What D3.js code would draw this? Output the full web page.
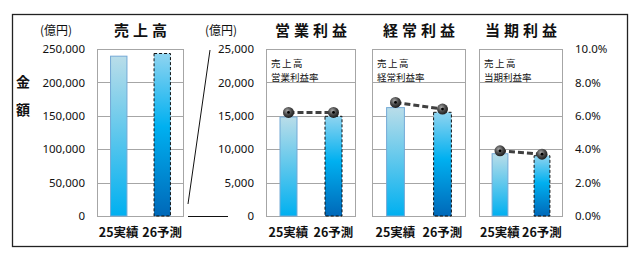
<!DOCTYPE html>
<html><head><meta charset="utf-8">
<script src="https://cdn.jsdelivr.net/npm/d3@7"></script>
<style>
html,body{margin:0;padding:0;background:#fff;}
svg{display:block;font-family:"Noto Sans CJK JP","Noto Sans",sans-serif;}
</style></head>
<body>
<svg id="c" width="640" height="257"></svg>
<script>
// ---- data ----
const categories = ["25実績", "26予測"];
const panelTitles = ["売上高", "営業利益", "経常利益", "当期利益"];
const salesValues = [240000, 244000];
const operatingProfit = [14900, 15000];
const ordinaryProfit = [16300, 15600];
const netProfit = [9400, 9100];
const operatingMargin = [6.2, 6.2];
const ordinaryMargin = [6.8, 6.4];
const netMargin = [3.9, 3.7];
const marginLabels = ["営業利益率", "経常利益率", "当期利益率"];
const salesTicks = [0, 50000, 100000, 150000, 200000, 250000];
const profitTicks = [0, 5000, 10000, 15000, 20000, 25000];
const marginTicks = [0, 2, 4, 6, 8, 10];

// ---- layout ----
const svg = d3.select("#c");
const plotTop = 49, plotBottom = 216;
const panels = [
  {x0: 97, x1: 184, values: salesValues},
  {x0: 266, x1: 356, values: operatingProfit, margin: operatingMargin, label: marginLabels[0]},
  {x0: 372, x1: 466, values: ordinaryProfit, margin: ordinaryMargin, label: marginLabels[1]},
  {x0: 479, x1: 563, values: netProfit, margin: netMargin, label: marginLabels[2]}
];
const ySales = d3.scaleLinear().domain([0, 250000]).range([plotBottom, plotTop]);
const yProfit = d3.scaleLinear().domain([0, 25000]).range([plotBottom, plotTop]);
const yMargin = d3.scaleLinear().domain([0, 10]).range([plotBottom, plotTop]);

// outer frame
svg.append("rect").attr("x", 12.5).attr("y", 14.5).attr("width", 615).attr("height", 232)
  .attr("fill", "none").attr("stroke", "#222").attr("stroke-width", 1.3);

// gradients
const defs = svg.append("defs");
const gA = defs.append("linearGradient").attr("id", "gA").attr("x1", 0).attr("y1", 0).attr("x2", 0).attr("y2", 1);
gA.append("stop").attr("offset", "0%").attr("stop-color", "#b9dde9");
gA.append("stop").attr("offset", "100%").attr("stop-color", "#00b0f0");
const gB = defs.append("linearGradient").attr("id", "gB").attr("x1", 0).attr("y1", 0).attr("x2", 0).attr("y2", 1);
gB.append("stop").attr("offset", "0%").attr("stop-color", "#8fd4f0");
gB.append("stop").attr("offset", "45%").attr("stop-color", "#00b0f0");
gB.append("stop").attr("offset", "100%").attr("stop-color", "#0068b8");
const gD = defs.append("radialGradient").attr("id", "gD").attr("cx", "40%").attr("cy", "35%").attr("r", "65%");
gD.append("stop").attr("offset", "0%").attr("stop-color", "#a8a8a8");
gD.append("stop").attr("offset", "55%").attr("stop-color", "#4a4a4a");
gD.append("stop").attr("offset", "100%").attr("stop-color", "#1e1e1e");

panels.forEach((p, i) => {
  const y = i === 0 ? ySales : yProfit;
  const ticks = i === 0 ? salesTicks : profitTicks;
  const g = svg.append("g");
  // gridlines
  g.selectAll("line.grid").data(ticks).join("line")
    .attr("x1", p.x0).attr("x2", p.x1)
    .attr("y1", d => Math.round(y(d)) + 0.5).attr("y2", d => Math.round(y(d)) + 0.5)
    .attr("stroke", "#a6a6a6").attr("stroke-width", 1);
  // plot box
  g.append("rect").attr("x", p.x0 + 0.5).attr("y", plotTop + 0.5)
    .attr("width", p.x1 - p.x0 - 1).attr("height", plotBottom - plotTop)
    .attr("fill", "none").attr("stroke", "#a6a6a6");

  const x = d3.scaleBand().domain(categories).range([p.x0, p.x1]).paddingInner(0.6).paddingOuter(0.3);
  const data = categories.map((c, k) => ({c, v: p.values[k], k}));
  g.selectAll("rect.bar").data(data).join("rect")
    .attr("x", d => x(d.c) + 0.5).attr("width", x.bandwidth() - 1)
    .attr("y", d => y(d.v) + 0.5).attr("height", d => plotBottom - y(d.v) - 0.5)
    .attr("fill", d => d.k === 0 ? "url(#gA)" : "url(#gB)")
    .attr("stroke", d => d.k === 0 ? "#74a9d6" : "#111")
    .attr("stroke-width", 1)
    .attr("stroke-dasharray", d => d.k === 0 ? null : "3,2");

  // x labels
  g.selectAll("text.xl").data(categories).join("text")
    .attr("x", d => x(d) + x.bandwidth() / 2).attr("y", 237)
    .attr("text-anchor", "middle").attr("font-size", 12.5).attr("font-weight", "bold")
    .attr("fill", "#111").text(d => d);

  // title
  g.append("text").attr("x", (p.x0 + p.x1) / 2 + 2).attr("y", 36).attr("text-anchor", "middle")
    .attr("font-size", 15).attr("font-weight", "bold").attr("letter-spacing", "4px")
    .attr("fill", "#111").text(panelTitles[i]);

  if (p.margin) {
    g.append("text").attr("x", p.x0 + 5).attr("y", 67).attr("font-size", 9.5).attr("letter-spacing", "1.5px").attr("fill", "#111").text("売上高");
    g.append("text").attr("x", p.x0 + 5).attr("y", 81).attr("font-size", 9.5).attr("fill", "#111").text(p.label);
    const pts = categories.map((c, k) => [x(c) + x.bandwidth() / 2, yMargin(p.margin[k])]);
    g.append("path").attr("d", d3.line()(pts)).attr("fill", "none")
      .attr("stroke", "#404040").attr("stroke-width", 3).attr("stroke-dasharray", "6,3");
    g.selectAll("circle.dot").data(pts).join("circle")
      .attr("cx", d => d[0]).attr("cy", d => d[1]).attr("r", 5.5).attr("fill", "url(#gD)");
    g.selectAll("circle.ctr").data(pts).join("circle")
      .attr("cx", d => d[0]).attr("cy", d => d[1]).attr("r", 1.4).attr("fill", "#000");
  }
});

// axes
const tickFont = g => g.selectAll("text").attr("font-size", 11.5).attr("fill", "#111")
  .attr("font-family", "\"Noto Sans\",\"Noto Sans CJK JP\",sans-serif");
const leftAxis = svg.append("g").attr("transform", "translate(85,0)")
  .call(d3.axisLeft(ySales).tickValues(salesTicks).tickSize(0).tickPadding(0).tickFormat(d3.format(",")));
leftAxis.select(".domain").remove(); tickFont(leftAxis);
const midAxis = svg.append("g").attr("transform", "translate(254,0)")
  .call(d3.axisLeft(yProfit).tickValues(profitTicks).tickSize(0).tickPadding(0).tickFormat(d3.format(",")));
midAxis.select(".domain").remove(); tickFont(midAxis);
const rightAxis = svg.append("g").attr("transform", "translate(575,0)")
  .call(d3.axisRight(yMargin).tickValues(marginTicks).tickSize(0).tickPadding(0).tickFormat(d => d3.format(".1f")(d) + "%"));
rightAxis.select(".domain").remove(); tickFont(rightAxis);

// unit labels
svg.append("text").attr("x", 40).attr("y", 35).attr("font-size", 12).attr("fill", "#111").text("(億円)");
svg.append("text").attr("x", 205).attr("y", 35).attr("font-size", 12).attr("fill", "#111").text("(億円)");
svg.append("text").attr("x", 23).attr("y", 87).attr("font-size", 14).attr("font-weight", "bold").attr("text-anchor", "middle").attr("fill", "#111").text("金");
svg.append("text").attr("x", 23).attr("y", 115).attr("font-size", 14).attr("font-weight", "bold").attr("text-anchor", "middle").attr("fill", "#111").text("額");

// connector lines between sales and profit scales
svg.append("line").attr("x1", 210).attr("y1", 50).attr("x2", 188).attr("y2", 204).attr("stroke", "#111");
svg.append("line").attr("x1", 188).attr("y1", 216.5).attr("x2", 228).attr("y2", 216.5).attr("stroke", "#111");
</script>
</body></html>
